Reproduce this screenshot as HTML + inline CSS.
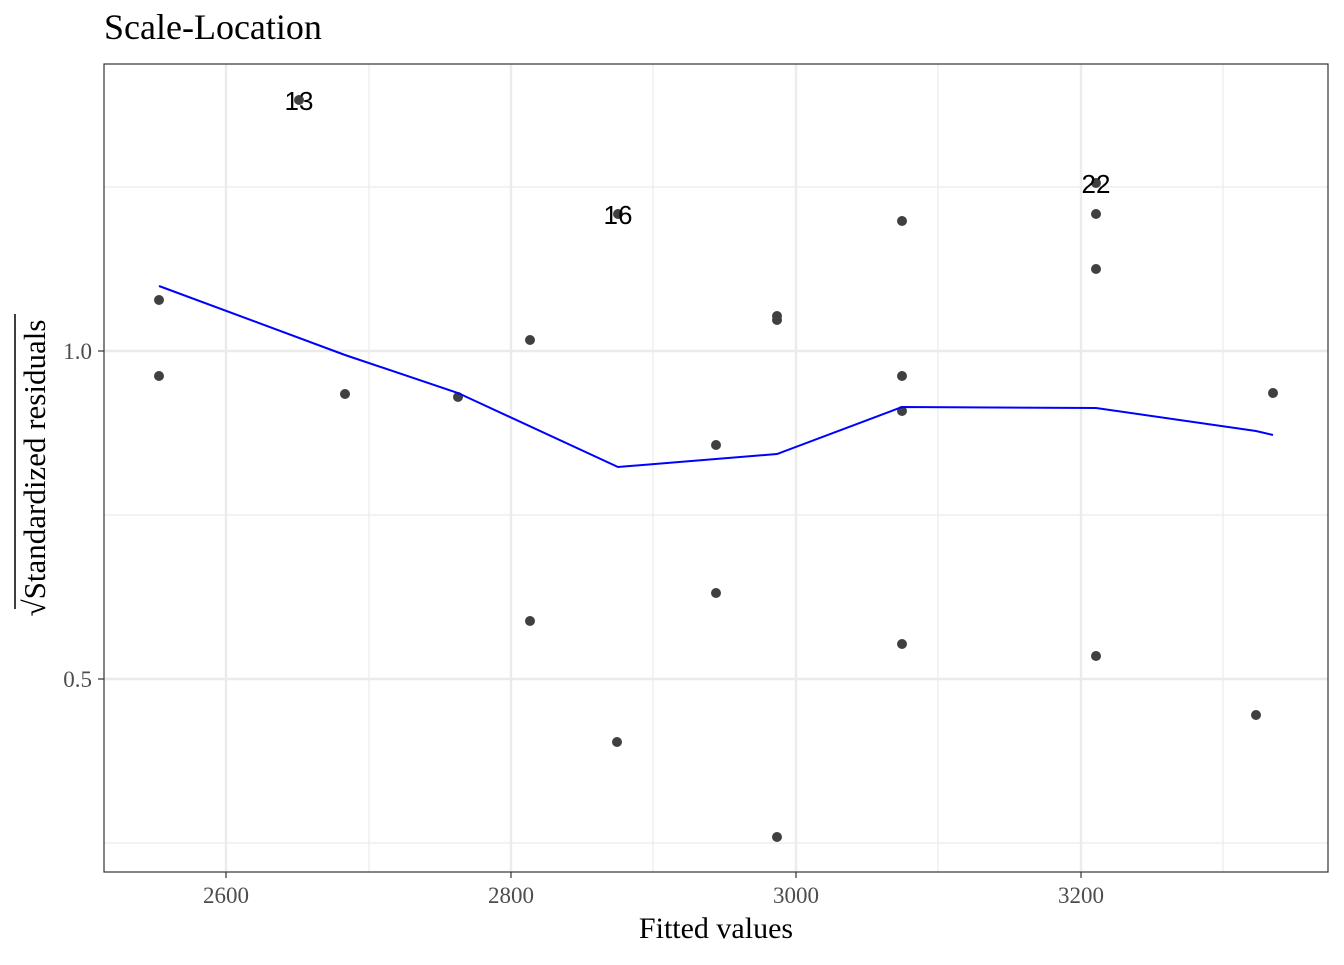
<!DOCTYPE html>
<html><head><style>body{margin:0;background:#fff}</style></head><body>
<svg width="1344" height="960" xmlns="http://www.w3.org/2000/svg" font-family="Liberation Serif, serif">
<rect width="1344" height="960" fill="#fff"/>
<g stroke="#ebebeb" stroke-width="1.2">
<line x1="369" y1="64" x2="369" y2="872"/><line x1="653" y1="64" x2="653" y2="872"/><line x1="938" y1="64" x2="938" y2="872"/><line x1="1223" y1="64" x2="1223" y2="872"/>
<line x1="104" y1="187" x2="1328" y2="187"/><line x1="104" y1="515" x2="1328" y2="515"/><line x1="104" y1="843" x2="1328" y2="843"/>
</g>
<g stroke="#ebebeb" stroke-width="2.4">
<line x1="226" y1="64" x2="226" y2="872"/><line x1="511" y1="64" x2="511" y2="872"/><line x1="796" y1="64" x2="796" y2="872"/><line x1="1081" y1="64" x2="1081" y2="872"/>
<line x1="104" y1="351" x2="1328" y2="351"/><line x1="104" y1="679" x2="1328" y2="679"/>
</g>
<g fill="#404040">
<circle cx="299" cy="100" r="5"/><circle cx="159" cy="300" r="5"/><circle cx="159" cy="376" r="5"/><circle cx="345" cy="394" r="5"/><circle cx="458" cy="397" r="5"/><circle cx="530" cy="340" r="5"/><circle cx="530" cy="621" r="5"/><circle cx="618" cy="214" r="5"/><circle cx="617" cy="742" r="5"/><circle cx="716" cy="445" r="5"/><circle cx="716" cy="593" r="5"/><circle cx="777" cy="316" r="5"/><circle cx="777" cy="320" r="5"/><circle cx="777" cy="837" r="5"/><circle cx="902" cy="221" r="5"/><circle cx="902" cy="376" r="5"/><circle cx="902" cy="411" r="5"/><circle cx="902" cy="644" r="5"/><circle cx="1096" cy="183" r="5"/><circle cx="1096" cy="214" r="5"/><circle cx="1096" cy="269" r="5"/><circle cx="1096" cy="656" r="5"/><circle cx="1256" cy="715" r="5"/><circle cx="1273" cy="393" r="5"/>
</g>
<polyline fill="none" stroke="#0000ff" stroke-width="2" points="159,286 345,355 458,393 618,467 777,454 902,407 1096,408 1256,431 1273,435"/>
<g font-family="Liberation Sans, sans-serif" font-size="26" text-anchor="middle" fill="#000">
<text x="299" y="110">13</text><text x="618" y="224">16</text><text x="1096" y="193">22</text>
</g>
<rect x="104" y="64" width="1224" height="808" fill="none" stroke="#333" stroke-width="1.2"/>
<g stroke="#333" stroke-width="1.2">
<line x1="226" y1="872" x2="226" y2="878"/><line x1="511" y1="872" x2="511" y2="878"/><line x1="796" y1="872" x2="796" y2="878"/><line x1="1081" y1="872" x2="1081" y2="878"/>
<line x1="98" y1="351" x2="104" y2="351"/><line x1="98" y1="679" x2="104" y2="679"/>
</g>
<g font-size="23" fill="#4d4d4d" text-anchor="middle">
<text x="226" y="903">2600</text><text x="511" y="903">2800</text><text x="796" y="903">3000</text><text x="1081" y="903">3200</text>
<text x="92" y="359" text-anchor="end">1.0</text><text x="92" y="687" text-anchor="end">0.5</text>
</g>
<text x="716" y="938" font-size="30" text-anchor="middle">Fitted values</text>
<text x="104" y="39" font-size="36">Scale-Location</text>
<g transform="translate(45,468) rotate(-90)">
<text x="0" y="0" font-size="31" text-anchor="middle">√Standardized residuals</text>
</g>
<line x1="15" y1="609" x2="15" y2="314" stroke="#000" stroke-width="1.5"/>
</svg>
</body></html>
